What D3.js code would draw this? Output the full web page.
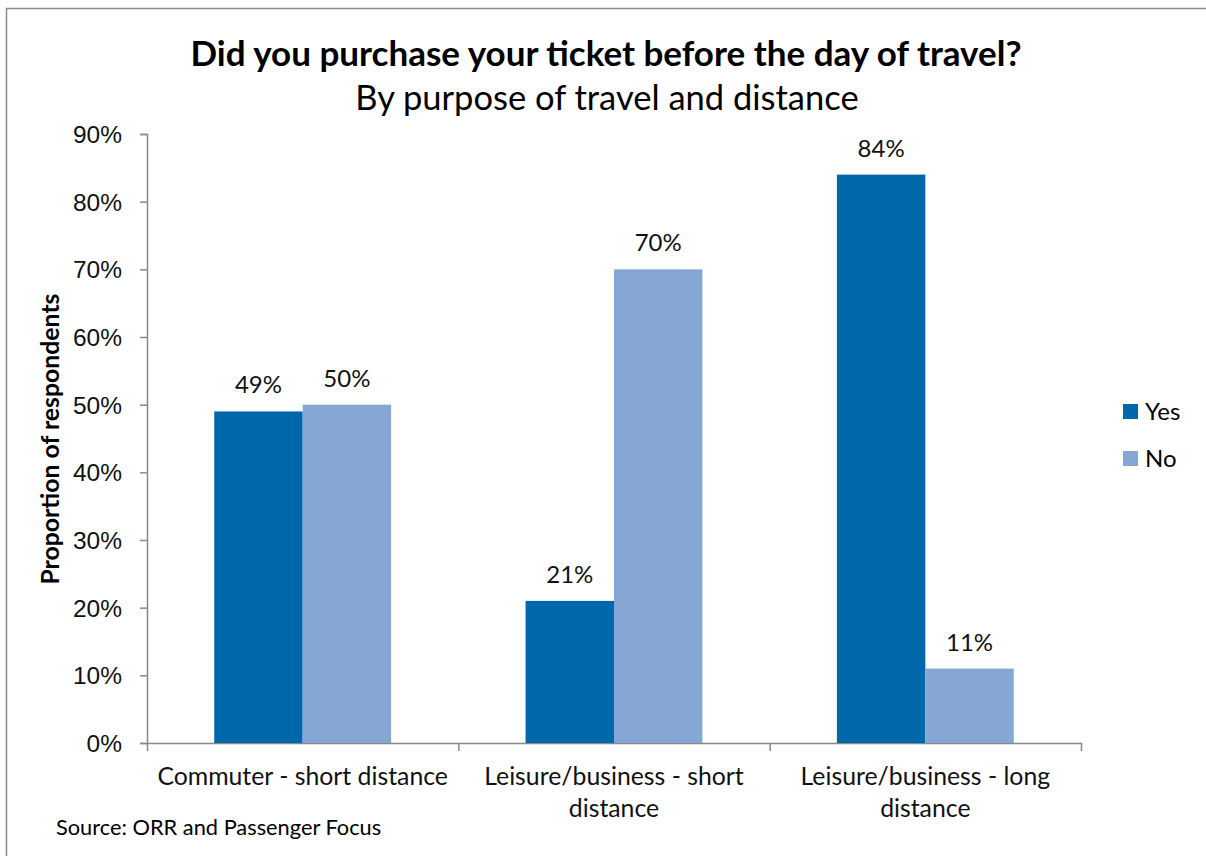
<!DOCTYPE html>
<html>
<head>
    <meta charset="utf-8">
    <style>
        body { margin: 0; background: #fff; }
        svg { font-family: Lato, 'Open Sans', sans-serif; display: block; }
    </style>
</head>
<body>
<svg width="1206" height="856"></svg>
<script src="https://d3js.org/d3.v7.min.js"></script>
<script>
    // chart data
    let categories = [["Commuter - short distance"], ["Leisure/business - short", "distance"], ["Leisure/business - long", "distance"]]
    let seriesNames = ["Yes", "No"]
    let yesValues = [49, 21, 84]
    let noValues = [50, 70, 11]
    let yTicks = [0, 10, 20, 30, 40, 50, 60, 70, 80, 90]
    let colors = ["#0068aa", "#86a7d3"]

    let svg = d3.select("svg")

    // chart frame
    svg.append("rect")
        .attr("x", 6.5).attr("y", 8.5)
        .attr("width", 1210).attr("height", 870)
        .style("fill", "none").style("stroke", "#8c8c8c").style("stroke-width", 1.5)

    let plotLeft = 147, plotRight = 1081, plotTop = 134, plotBottom = 743

    let x = d3.scaleBand()
        .domain(d3.range(categories.length))
        .range([plotLeft, plotRight])

    let xInner = d3.scaleBand()
        .domain(seriesNames)
        .range([0, x.bandwidth()])
        .paddingOuter(0.76)

    let y = d3.scaleLinear()
        .domain([0, 90])
        .range([plotBottom, plotTop])

    // y axis
    let yAxis = svg.append("g")
        .attr("transform", `translate(${plotLeft},0)`)
        .call(d3.axisLeft(y).tickValues(yTicks).tickSize(7).tickPadding(18).tickFormat(d => d + "%"))
    yAxis.select(".domain").style("stroke", "#888").style("stroke-width", 1.5).attr("d", `M-7,${plotTop}.5H0.5V${plotBottom}`)
    yAxis.selectAll(".tick line").style("stroke", "#888").style("stroke-width", 1.5)
    yAxis.selectAll("text").style("font-size", "24.5px").style("fill", "#111").attr("dy", "0.35em")

    // x axis
    svg.append("line")
        .attr("x1", plotLeft - 7).attr("x2", plotRight + 1)
        .attr("y1", plotBottom + 0.5).attr("y2", plotBottom + 0.5)
        .style("stroke", "#888").style("stroke-width", 1.5)
    svg.selectAll(".xtick")
        .data(d3.range(categories.length + 1))
        .join("line")
        .attr("x1", d => plotLeft + d * x.step() + 0.5)
        .attr("x2", d => plotLeft + d * x.step() + 0.5)
        .attr("y1", plotBottom).attr("y2", plotBottom + 8)
        .style("stroke", "#888").style("stroke-width", 1.5)

    let groups = svg.selectAll(".grp")
        .data(categories.map((c, i) => ({ i: i, vals: [yesValues[i], noValues[i]] })))
        .join("g")
        .attr("transform", d => `translate(${x(d.i)},0)`)

    groups.selectAll("rect")
        .data(d => d.vals.map((v, j) => ({ key: seriesNames[j], v: v, j: j })))
        .join("rect")
        .attr("x", d => xInner(d.key))
        .attr("width", xInner.bandwidth())
        .attr("y", d => y(d.v))
        .attr("height", d => plotBottom - y(d.v))
        .style("fill", d => colors[d.j])

    groups.selectAll(".lbl")
        .data(d => d.vals.map((v, j) => ({ key: seriesNames[j], v: v })))
        .join("text")
        .attr("x", d => xInner(d.key) + xInner.bandwidth() / 2)
        .attr("y", d => y(d.v) - 18)
        .attr("text-anchor", "middle")
        .style("font-size", "24px")
        .style("fill", "#111")
        .text(d => d.v + "%")

    // category labels
    groups.append("text")
        .attr("text-anchor", "middle")
        .style("font-size", "24.8px")
        .style("fill", "#111")
        .selectAll("tspan")
        .data(d => categories[d.i])
        .join("tspan")
        .attr("x", x.bandwidth() / 2)
        .attr("y", (d, k) => 785 + k * 32)
        .text(d => d)

    // titles
    svg.append("text")
        .attr("x", 606).attr("y", 66)
        .attr("text-anchor", "middle")
        .style("font-size", "35px").style("font-weight", "bold")
        .text("Did you purchase your ticket before the day of travel?")
    svg.append("text")
        .attr("x", 607).attr("y", 110)
        .attr("text-anchor", "middle")
        .style("font-size", "34.5px")
        .text("By purpose of travel and distance")

    svg.append("text")
        .attr("transform", "translate(59,439) rotate(-90)")
        .attr("text-anchor", "middle")
        .style("font-size", "24.8px").style("font-weight", "bold")
        .text("Proportion of respondents")

    // legend
    let legend = svg.selectAll(".leg")
        .data(seriesNames)
        .join("g")
        .attr("transform", (d, i) => `translate(1123,${404 + i * 47})`)
    legend.append("rect")
        .attr("width", 15).attr("height", 15)
        .style("fill", (d, i) => colors[i])
    legend.append("text")
        .attr("x", 22).attr("y", 16)
        .style("font-size", "24px")
        .text(d => d)

    svg.append("text")
        .attr("x", 56).attr("y", 835)
        .style("font-size", "21.8px")
        .text("Source: ORR and Passenger Focus")
</script>
</body>
</html>
